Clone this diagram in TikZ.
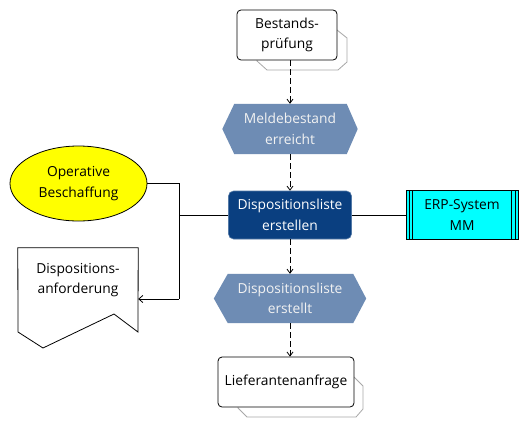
\documentclass[tikz,border=0pt]{standalone}
\usepackage{fontspec}
\setmainfont{Open Sans}
\usetikzlibrary{arrows.meta,calc,shapes.geometric,backgrounds}
\definecolor{evblue}{HTML}{6E8CB4}
\definecolor{fnblue}{HTML}{0A3F80}
\definecolor{shadowgray}{HTML}{A8A8A8}
\definecolor{erpcyan}{HTML}{00FFFF}
\definecolor{opyellow}{HTML}{FFFF00}
\tikzset{
  lbl/.style={font=\fontsize{13.8}{20.5}\selectfont, align=center, inner sep=0pt},
  docbox/.style={lbl, draw=black, line width=0.8pt, rounded corners=4pt, fill=white},
  shadowline/.style={draw=shadowgray, line width=0.8pt},
  fnbox/.style={lbl, text=white, fill=fnblue, draw=fnblue!70!white, line width=0.6pt, rounded corners=5pt},
  sysbox/.style={lbl, fill=erpcyan, draw=black, line width=0.8pt},
  orgunit/.style={lbl, ellipse, fill=opyellow, draw=black, line width=0.8pt},
  flow/.style={draw=black, line width=0.8pt, dash pattern=on 6pt off 3pt, -{Straight Barb[length=4pt,width=6pt]}},
  link/.style={draw=black, line width=0.8pt},
  linkarrow/.style={link, -{Straight Barb[length=4pt,width=7pt]}}
}
\begin{document}
\begin{tikzpicture}[x=1pt,y=-1pt]
\useasboundingbox (0,0) rectangle (529,428);

% shadows
\draw[shadowline] (257,60) -- (257,61) -- (267,70) -- (338,70) -- (347,62) -- (347,38) -- (337,30);
\draw[shadowline] (238,407) -- (238,408) -- (247,417) -- (356,417) -- (363,409) -- (363,386) -- (354,377);

% nodes
\node[docbox, minimum width=100pt, minimum height=50pt] (best) at (287,35) {Bestands-\\prüfung};
\node[lbl, text=white!95!black, minimum width=135pt, minimum height=50pt] (meld) at (290,129) {Meldebestand\\erreicht};
\node[fnbox, minimum width=123pt, minimum height=48pt] (disp) at (290,215) {Dispositionsliste\\erstellen};
\node[sysbox, minimum width=112pt, minimum height=49pt] (erp) at (462,215) {ERP-System\\MM};
\node[orgunit, minimum width=137pt, minimum height=75pt] (opb) at (78.5,183.5) {Operative\\Beschaffung};
\node[lbl, text=white!95!black, minimum width=152pt, minimum height=49pt] (erst) at (290,298.5) {Dispositionsliste\\erstellt};
\node[docbox, minimum width=136pt, minimum height=50pt] (lief) at (286,382) {Lieferantenanfrage};
\node[lbl, minimum width=120pt, minimum height=64pt] (anf) at (78,280) {Dispositions-\\anforderung};

\begin{scope}[on background layer]
  \fill[white] (0,0) rectangle (529,428);
  \fill[evblue] (meld.west) -- ($(meld.north west)+(12,0)$) -- ($(meld.north east)+(-11,0)$) -- (meld.east)
     -- ($(meld.south east)+(-11,0)$) -- ($(meld.south west)+(12,0)$) -- cycle;
  \fill[evblue] (erst.west) -- ($(erst.north west)+(14,0)$) -- ($(erst.north east)+(-13,0)$) -- (erst.east)
     -- ($(erst.south east)+(-13,0)$) -- ($(erst.south west)+(14,0)$) -- cycle;
  \draw[link, fill=white] (anf.north west) -- (anf.north east) -- (138,332) -- (114,314) -- (43,348) -- (18,332) -- cycle;
\end{scope}

% ERP side bars
\foreach \d in {3.5,7} {
  \draw[link] ($(erp.north west)+(\d,0)$) -- ($(erp.south west)+(\d,0)$);
  \draw[link] ($(erp.north east)+(-\d,0)$) -- ($(erp.south east)+(-\d,0)$);
}

% connectors
\draw[flow] (meld.north |- best.south) -- (meld.north);
\draw[flow] (meld.south) -- (disp.north);
\draw[flow] (disp.south) -- (erst.north);
\draw[flow] (erst.south) -- (erst.south |- lief.north);

\coordinate (jt) at (179,183.5);
\coordinate (jm) at (179,215);
\coordinate (jb) at (179,299);
\draw[link] (disp.east) -- (erp.west);
\draw[link] (disp.west) -- (jm);
\draw[link] (opb.east) -- (jt) -- (jb);
\draw[linkarrow] (jb) -- (jb -| anf.east);
\end{tikzpicture}
\end{document}
